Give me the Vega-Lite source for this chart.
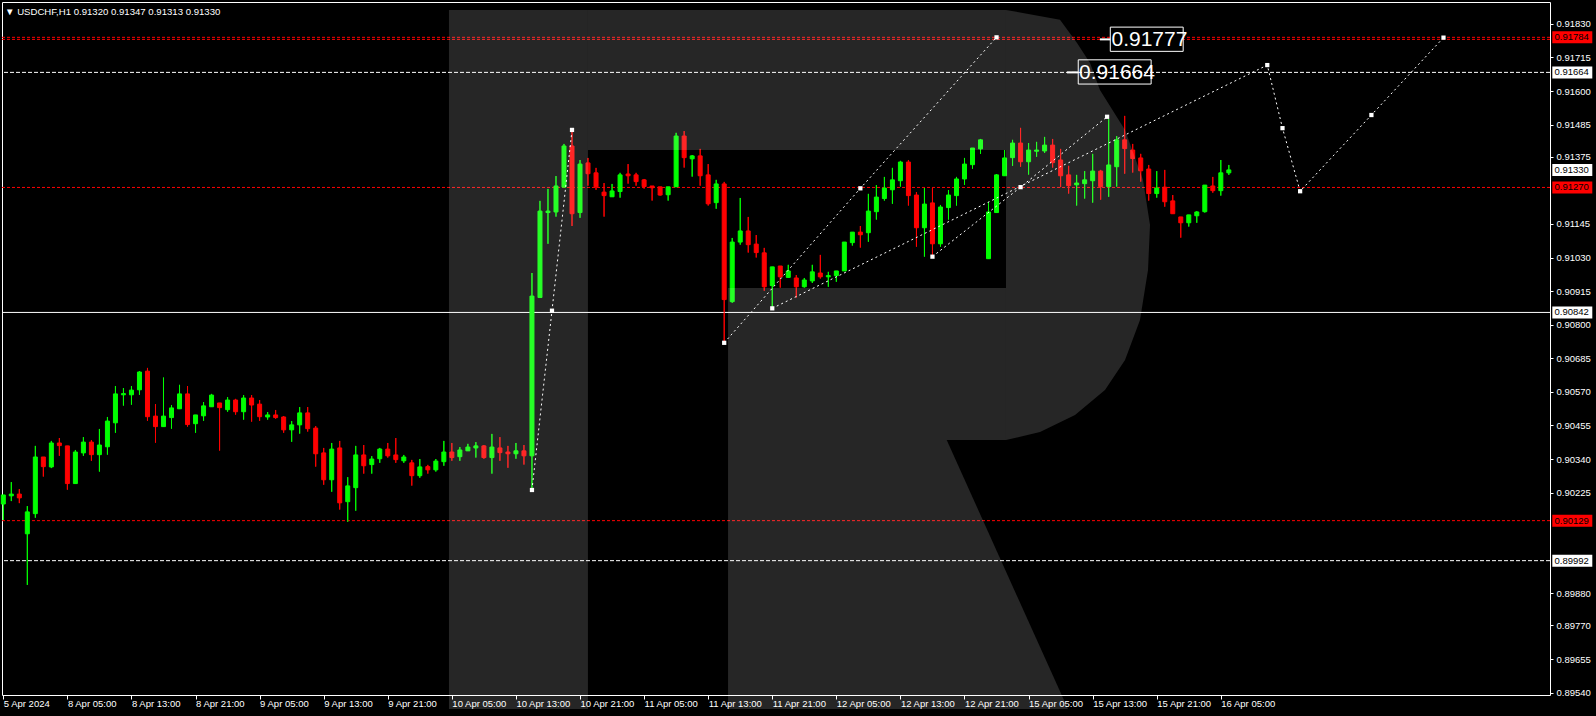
{
"$schema": "https://vega.github.io/schema/vega-lite/v6.json",
"width": 1548, "height": 693,
"autosize": {"type": "none"},
"padding": {"left": 2, "top": 2, "right": 46, "bottom": 21},
"background": "#000000",
"config": {
  "view": {"stroke": "#ffffff", "strokeWidth": 1},
  "font": "Liberation Sans",
  "axis": {"domain": false, "grid": false, "labelColor": "#ffffff", "tickColor": "#ffffff", "labelFont": "Liberation Sans", "labelFontSize": 9.5, "labelOverlap": false, "labelFlush": false, "titleColor": "#000000"},
  "axisY": {"labelOverlap": false},
  "axisRight": {"labelOverlap": false},
  "axisQuantitative": {"labelOverlap": false}
},
"title": {"text": "▼ USDCHF,H1  0.91320 0.91347 0.91313 0.91330", "anchor": "start", "frame": "group", "offset": -15, "dx": 3, "color": "#ffffff", "font": "Liberation Sans", "fontSize": 9.6, "fontWeight": "normal"},
"datasets": {
"candles": [
{"i":0,"o":0.90186,"h":0.90217,"l":0.90131,"c":0.90217},
{"i":1,"o":0.90214,"h":0.90261,"l":0.90196,"c":0.90220},
{"i":2,"o":0.90220,"h":0.90237,"l":0.90189,"c":0.90207},
{"i":3,"o":0.90084,"h":0.90179,"l":0.89909,"c":0.90159},
{"i":4,"o":0.90153,"h":0.90385,"l":0.90139,"c":0.90347},
{"i":5,"o":0.90347,"h":0.90347,"l":0.90280,"c":0.90314},
{"i":6,"o":0.90313,"h":0.90402,"l":0.90309,"c":0.90395},
{"i":7,"o":0.90395,"h":0.90412,"l":0.90351,"c":0.90386},
{"i":8,"o":0.90385,"h":0.90385,"l":0.90235,"c":0.90256},
{"i":9,"o":0.90256,"h":0.90371,"l":0.90256,"c":0.90364},
{"i":10,"o":0.90361,"h":0.90415,"l":0.90351,"c":0.90398},
{"i":11,"o":0.90398,"h":0.90405,"l":0.90334,"c":0.90355},
{"i":12,"o":0.90355,"h":0.90443,"l":0.90297,"c":0.90388},
{"i":13,"o":0.90382,"h":0.90484,"l":0.90355,"c":0.90470},
{"i":14,"o":0.90464,"h":0.90590,"l":0.90430,"c":0.90563},
{"i":15,"o":0.90560,"h":0.90583,"l":0.90523,"c":0.90564},
{"i":16,"o":0.90560,"h":0.90590,"l":0.90526,"c":0.90576},
{"i":17,"o":0.90577,"h":0.90641,"l":0.90560,"c":0.90638},
{"i":18,"o":0.90641,"h":0.90652,"l":0.90471,"c":0.90485},
{"i":19,"o":0.90487,"h":0.90528,"l":0.90396,"c":0.90451},
{"i":20,"o":0.90451,"h":0.90619,"l":0.90451,"c":0.90487},
{"i":21,"o":0.90482,"h":0.90525,"l":0.90444,"c":0.90515},
{"i":22,"o":0.90512,"h":0.90594,"l":0.90512,"c":0.90563},
{"i":23,"o":0.90563,"h":0.90590,"l":0.90451,"c":0.90458},
{"i":24,"o":0.90461,"h":0.90491,"l":0.90430,"c":0.90491},
{"i":25,"o":0.90488,"h":0.90535,"l":0.90471,"c":0.90522},
{"i":26,"o":0.90519,"h":0.90563,"l":0.90519,"c":0.90559},
{"i":27,"o":0.90532,"h":0.90532,"l":0.90369,"c":0.90516},
{"i":28,"o":0.90509,"h":0.90552,"l":0.90502,"c":0.90542},
{"i":29,"o":0.90542,"h":0.90546,"l":0.90492,"c":0.90502},
{"i":30,"o":0.90502,"h":0.90559,"l":0.90475,"c":0.90549},
{"i":31,"o":0.90549,"h":0.90559,"l":0.90468,"c":0.90525},
{"i":32,"o":0.90528,"h":0.90542,"l":0.90471,"c":0.90485},
{"i":33,"o":0.90484,"h":0.90501,"l":0.90475,"c":0.90491},
{"i":34,"o":0.90491,"h":0.90508,"l":0.90478,"c":0.90482},
{"i":35,"o":0.90484,"h":0.90487,"l":0.90430,"c":0.90440},
{"i":36,"o":0.90440,"h":0.90470,"l":0.90399,"c":0.90457},
{"i":37,"o":0.90457,"h":0.90518,"l":0.90427,"c":0.90498},
{"i":38,"o":0.90498,"h":0.90518,"l":0.90434,"c":0.90444},
{"i":39,"o":0.90446,"h":0.90453,"l":0.90314,"c":0.90358},
{"i":40,"o":0.90361,"h":0.90378,"l":0.90252,"c":0.90269},
{"i":41,"o":0.90269,"h":0.90395,"l":0.90228,"c":0.90374},
{"i":42,"o":0.90378,"h":0.90402,"l":0.90167,"c":0.90190},
{"i":43,"o":0.90194,"h":0.90278,"l":0.90125,"c":0.90248},
{"i":44,"o":0.90242,"h":0.90385,"l":0.90163,"c":0.90354},
{"i":45,"o":0.90354,"h":0.90388,"l":0.90290,"c":0.90317},
{"i":46,"o":0.90321,"h":0.90350,"l":0.90290,"c":0.90340},
{"i":47,"o":0.90341,"h":0.90378,"l":0.90327,"c":0.90374},
{"i":48,"o":0.90374,"h":0.90395,"l":0.90345,"c":0.90351},
{"i":49,"o":0.90354,"h":0.90412,"l":0.90327,"c":0.90338},
{"i":50,"o":0.90334,"h":0.90354,"l":0.90327,"c":0.90347},
{"i":51,"o":0.90327,"h":0.90337,"l":0.90249,"c":0.90283},
{"i":52,"o":0.90283,"h":0.90340,"l":0.90276,"c":0.90313},
{"i":53,"o":0.90314,"h":0.90320,"l":0.90290,"c":0.90303},
{"i":54,"o":0.90303,"h":0.90340,"l":0.90297,"c":0.90333},
{"i":55,"o":0.90331,"h":0.90402,"l":0.90317,"c":0.90364},
{"i":56,"o":0.90364,"h":0.90395,"l":0.90334,"c":0.90345},
{"i":57,"o":0.90348,"h":0.90381,"l":0.90334,"c":0.90371},
{"i":58,"o":0.90368,"h":0.90392,"l":0.90368,"c":0.90381},
{"i":59,"o":0.90378,"h":0.90398,"l":0.90345,"c":0.90385},
{"i":60,"o":0.90385,"h":0.90388,"l":0.90341,"c":0.90345},
{"i":61,"o":0.90345,"h":0.90426,"l":0.90290,"c":0.90381},
{"i":62,"o":0.90378,"h":0.90415,"l":0.90334,"c":0.90362},
{"i":63,"o":0.90364,"h":0.90385,"l":0.90310,"c":0.90358},
{"i":64,"o":0.90358,"h":0.90395,"l":0.90341,"c":0.90368},
{"i":65,"o":0.90368,"h":0.90388,"l":0.90321,"c":0.90351},
{"i":66,"o":0.90351,"h":0.90977,"l":0.90241,"c":0.90898},
{"i":67,"o":0.90893,"h":0.91224,"l":0.90893,"c":0.91189},
{"i":68,"o":0.91184,"h":0.91265,"l":0.91077,"c":0.91189},
{"i":69,"o":0.91186,"h":0.91309,"l":0.91170,"c":0.91275},
{"i":70,"o":0.91271,"h":0.91419,"l":0.91271,"c":0.91412},
{"i":71,"o":0.91412,"h":0.91467,"l":0.91138,"c":0.91180},
{"i":72,"o":0.91184,"h":0.91364,"l":0.91166,"c":0.91350},
{"i":73,"o":0.91354,"h":0.91371,"l":0.91276,"c":0.91317},
{"i":74,"o":0.91320,"h":0.91337,"l":0.91262,"c":0.91272},
{"i":75,"o":0.91254,"h":0.91285,"l":0.91170,"c":0.91242},
{"i":76,"o":0.91238,"h":0.91282,"l":0.91238,"c":0.91258},
{"i":77,"o":0.91256,"h":0.91320,"l":0.91235,"c":0.91313},
{"i":78,"o":0.91316,"h":0.91350,"l":0.91283,"c":0.91310},
{"i":79,"o":0.91313,"h":0.91320,"l":0.91276,"c":0.91290},
{"i":80,"o":0.91296,"h":0.91299,"l":0.91266,"c":0.91273},
{"i":81,"o":0.91275,"h":0.91275,"l":0.91225,"c":0.91269},
{"i":82,"o":0.91272,"h":0.91272,"l":0.91242,"c":0.91244},
{"i":83,"o":0.91245,"h":0.91272,"l":0.91225,"c":0.91272},
{"i":84,"o":0.91272,"h":0.91457,"l":0.91272,"c":0.91446},
{"i":85,"o":0.91446,"h":0.91463,"l":0.91338,"c":0.91372},
{"i":86,"o":0.91368,"h":0.91381,"l":0.91307,"c":0.91378},
{"i":87,"o":0.91378,"h":0.91402,"l":0.91276,"c":0.91310},
{"i":88,"o":0.91313,"h":0.91350,"l":0.91208,"c":0.91214},
{"i":89,"o":0.91218,"h":0.91296,"l":0.91197,"c":0.91282},
{"i":90,"o":0.91282,"h":0.91289,"l":0.90736,"c":0.90886},
{"i":91,"o":0.90879,"h":0.91097,"l":0.90875,"c":0.91083},
{"i":92,"o":0.91083,"h":0.91234,"l":0.91074,"c":0.91121},
{"i":93,"o":0.91121,"h":0.91169,"l":0.91047,"c":0.91074},
{"i":94,"o":0.91076,"h":0.91107,"l":0.91030,"c":0.91047},
{"i":95,"o":0.91046,"h":0.91063,"l":0.90916,"c":0.90930},
{"i":96,"o":0.90934,"h":0.90998,"l":0.90855,"c":0.90998},
{"i":97,"o":0.91001,"h":0.91001,"l":0.90927,"c":0.90964},
{"i":98,"o":0.90962,"h":0.91005,"l":0.90962,"c":0.90984},
{"i":99,"o":0.90960,"h":0.90970,"l":0.90893,"c":0.90930},
{"i":100,"o":0.90930,"h":0.90960,"l":0.90927,"c":0.90953},
{"i":101,"o":0.90950,"h":0.91005,"l":0.90943,"c":0.90981},
{"i":102,"o":0.90977,"h":0.91039,"l":0.90958,"c":0.90964},
{"i":103,"o":0.90964,"h":0.90981,"l":0.90930,"c":0.90968},
{"i":104,"o":0.90968,"h":0.90984,"l":0.90947,"c":0.90984},
{"i":105,"o":0.90984,"h":0.91083,"l":0.90984,"c":0.91083},
{"i":106,"o":0.91081,"h":0.91117,"l":0.91071,"c":0.91117},
{"i":107,"o":0.91117,"h":0.91138,"l":0.91064,"c":0.91108},
{"i":108,"o":0.91115,"h":0.91248,"l":0.91084,"c":0.91189},
{"i":109,"o":0.91187,"h":0.91278,"l":0.91160,"c":0.91237},
{"i":110,"o":0.91232,"h":0.91306,"l":0.91225,"c":0.91268},
{"i":111,"o":0.91262,"h":0.91337,"l":0.91214,"c":0.91296},
{"i":112,"o":0.91293,"h":0.91361,"l":0.91273,"c":0.91357},
{"i":113,"o":0.91357,"h":0.91364,"l":0.91208,"c":0.91242},
{"i":114,"o":0.91244,"h":0.91254,"l":0.91067,"c":0.91132},
{"i":115,"o":0.91132,"h":0.91268,"l":0.91033,"c":0.91213},
{"i":116,"o":0.91217,"h":0.91268,"l":0.91036,"c":0.91077},
{"i":117,"o":0.91077,"h":0.91210,"l":0.91067,"c":0.91203},
{"i":118,"o":0.91201,"h":0.91261,"l":0.91160,"c":0.91244},
{"i":119,"o":0.91242,"h":0.91306,"l":0.91208,"c":0.91299},
{"i":120,"o":0.91299,"h":0.91371,"l":0.91279,"c":0.91350},
{"i":121,"o":0.91348,"h":0.91405,"l":0.91334,"c":0.91405},
{"i":122,"o":0.91402,"h":0.91436,"l":0.91385,"c":0.91433},
{"i":123,"o":0.91026,"h":0.91220,"l":0.91026,"c":0.91186},
{"i":124,"o":0.91184,"h":0.91316,"l":0.91184,"c":0.91313},
{"i":125,"o":0.91310,"h":0.91398,"l":0.91310,"c":0.91371},
{"i":126,"o":0.91372,"h":0.91433,"l":0.91344,"c":0.91422},
{"i":127,"o":0.91422,"h":0.91474,"l":0.91341,"c":0.91358},
{"i":128,"o":0.91358,"h":0.91422,"l":0.91314,"c":0.91398},
{"i":129,"o":0.91394,"h":0.91426,"l":0.91375,"c":0.91398},
{"i":130,"o":0.91395,"h":0.91443,"l":0.91388,"c":0.91415},
{"i":131,"o":0.91415,"h":0.91436,"l":0.91338,"c":0.91355},
{"i":132,"o":0.91364,"h":0.91402,"l":0.91271,"c":0.91310},
{"i":133,"o":0.91313,"h":0.91344,"l":0.91249,"c":0.91276},
{"i":134,"o":0.91279,"h":0.91313,"l":0.91208,"c":0.91285},
{"i":135,"o":0.91283,"h":0.91326,"l":0.91232,"c":0.91296},
{"i":136,"o":0.91293,"h":0.91385,"l":0.91218,"c":0.91326},
{"i":137,"o":0.91326,"h":0.91330,"l":0.91228,"c":0.91273},
{"i":138,"o":0.91273,"h":0.91504,"l":0.91238,"c":0.91347},
{"i":139,"o":0.91341,"h":0.91446,"l":0.91273,"c":0.91433},
{"i":140,"o":0.91433,"h":0.91515,"l":0.91317,"c":0.91403},
{"i":141,"o":0.91398,"h":0.91419,"l":0.91321,"c":0.91369},
{"i":142,"o":0.91371,"h":0.91385,"l":0.91290,"c":0.91327},
{"i":143,"o":0.91333,"h":0.91347,"l":0.91225,"c":0.91249},
{"i":144,"o":0.91249,"h":0.91326,"l":0.91235,"c":0.91268},
{"i":145,"o":0.91271,"h":0.91330,"l":0.91204,"c":0.91221},
{"i":146,"o":0.91224,"h":0.91244,"l":0.91180,"c":0.91180},
{"i":147,"o":0.91169,"h":0.91169,"l":0.91098,"c":0.91149},
{"i":148,"o":0.91149,"h":0.91176,"l":0.91136,"c":0.91176},
{"i":149,"o":0.91173,"h":0.91189,"l":0.91149,"c":0.91186},
{"i":150,"o":0.91187,"h":0.91278,"l":0.91184,"c":0.91278},
{"i":151,"o":0.91275,"h":0.91306,"l":0.91252,"c":0.91259},
{"i":152,"o":0.91259,"h":0.91364,"l":0.91242,"c":0.91320},
{"i":153,"o":0.91320,"h":0.91347,"l":0.91313,"c":0.91330}
],
"paths": [
{"p":1,"k":0,"i":66,"v":0.90234},{"p":1,"k":1,"i":68.5,"v":0.90848},{"p":1,"k":2,"i":71,"v":0.91467},
{"p":2,"k":0,"i":90,"v":0.90738},{"p":2,"k":1,"i":107,"v":0.91267},{"p":2,"k":2,"i":124,"v":0.91784},
{"p":3,"k":0,"i":96,"v":0.90856},{"p":3,"k":1,"i":157.8,"v":0.91689},{"p":3,"k":2,"i":159.7,"v":0.91473},{"p":3,"k":3,"i":161.9,"v":0.91257},{"p":3,"k":4,"i":170.8,"v":0.91518},{"p":3,"k":5,"i":179.8,"v":0.91783},
{"p":4,"k":0,"i":116,"v":0.91033},{"p":4,"k":1,"i":127,"v":0.91271},{"p":4,"k":2,"i":137.8,"v":0.91512}
],
"logoRects": [
{"x1":55.64,"x2":72.99,"y1":0.91878,"y2":0.89484},
{"x1":72.99,"x2":125.18,"y1":0.91878,"y2":0.91398},
{"x1":90.48,"x2":125.18,"y1":0.90926,"y2":0.90405}
],
"logoBowl": [
{"y":0.91878,"xa":125.18,"xb":125.18},
{"y":0.91844,"xa":125.18,"xb":131.92},
{"y":0.91765,"xa":125.18,"xb":134.05},
{"y":0.91696,"xa":125.18,"xb":135.67},
{"y":0.91604,"xa":125.18,"xb":136.91},
{"y":0.91467,"xa":125.18,"xb":140.04},
{"y":0.91296,"xa":125.18,"xb":142.28},
{"y":0.91141,"xa":125.18,"xb":143.16},
{"y":0.90987,"xa":125.18,"xb":142.91},
{"y":0.90816,"xa":125.18,"xb":141.91},
{"y":0.90679,"xa":125.18,"xb":140.04},
{"y":0.90576,"xa":125.18,"xb":137.54},
{"y":0.90491,"xa":125.18,"xb":133.80},
{"y":0.90433,"xa":125.18,"xb":129.43},
{"y":0.90405,"xa":125.18,"xb":125.18}
],
"logoLeg": [
{"y":0.90405,"xa":90.48,"xb":117.78},
{"y":0.89484,"xa":90.48,"xb":132.92}
],
"redLines": [{"v":0.91784},{"v":0.91777},{"v":0.91270},{"v":0.90129}],
"whiteDash": [{"v":0.91664},{"v":0.89992}],
"whiteSolid": [{"v":0.90842}]
},
"layer": [
{
  "data": {"name": "candles"},
  "mark": {"type": "rule", "strokeWidth": 1},
  "encoding": {
    "x": {"field": "i", "type": "quantitative", "scale": {"domain": [-0.162, 193.096], "nice": false, "zero": false, "padding": 0},
      "axis": {"orient": "bottom", "title": null, "labelOverlap": false, "values": [0,8,16,24,32,40,48,56,64,72,80,88,96,104,112,120,128,136,144,152], "tickSize": 4, "labelAlign": "left", "labelBaseline": "top", "labelPadding": -1, "labelDx": 1,
        "labelExpr": "['5 Apr 2024','8 Apr 05:00','8 Apr 13:00','8 Apr 21:00','9 Apr 05:00','9 Apr 13:00','9 Apr 21:00','10 Apr 05:00','10 Apr 13:00','10 Apr 21:00','11 Apr 05:00','11 Apr 13:00','11 Apr 21:00','12 Apr 05:00','12 Apr 13:00','12 Apr 21:00','15 Apr 05:00','15 Apr 13:00','15 Apr 21:00','16 Apr 05:00'][round(datum.value/8)]"}},
    "y": {"field": "l", "type": "quantitative", "scale": {"domain": [0.89532, 0.91905], "nice": false, "zero": false, "padding": 0},
      "axis": {"orient": "right", "title": null, "labelOverlap": false, "values": [0.91830,0.91715,0.91600,0.91485,0.91375,0.91145,0.91030,0.90915,0.90800,0.90685,0.90570,0.90455,0.90340,0.90225,0.89880,0.89770,0.89655,0.89540], "format": ".5f", "tickSize": 3, "labelPadding": 3, "labelAlign": "left", "labelBaseline": "middle"}},
    "y2": {"field": "h"},
    "color": {"condition": {"test": "datum.c >= datum.o", "value": "#00ff00"}, "value": "#ff0000"}
  }
},
{
  "data": {"name": "redLines"},
  "mark": {"type": "rule", "color": "#ff0000", "strokeWidth": 1, "strokeDash": [3,2]},
  "encoding": {"y": {"field": "v", "type": "quantitative"}}
},
{
  "data": {"name": "whiteDash"},
  "mark": {"type": "rule", "color": "#ffffff", "strokeWidth": 1, "strokeDash": [4,2]},
  "encoding": {"y": {"field": "v", "type": "quantitative"}}
},
{
  "data": {"name": "whiteSolid"},
  "mark": {"type": "rule", "color": "#ffffff", "strokeWidth": 1},
  "encoding": {"y": {"field": "v", "type": "quantitative"}}
},
{
  "data": {"name": "candles"},
  "mark": {"type": "rule", "strokeWidth": 1},
  "encoding": {
    "x": {"field": "i", "type": "quantitative"},
    "y": {"field": "l", "type": "quantitative"},
    "y2": {"field": "h"},
    "color": {"condition": {"test": "datum.c >= datum.o", "value": "#00ff00"}, "value": "#ff0000"}
  }
},
{
  "data": {"name": "candles"},
  "mark": {"type": "bar", "width": 4, "strokeWidth": 1},
  "encoding": {
    "x": {"field": "i", "type": "quantitative"},
    "y": {"field": "o", "type": "quantitative"},
    "y2": {"field": "c"},
    "color": {"condition": {"test": "datum.c >= datum.o", "value": "#00ff00"}, "value": "#ff0000"},
    "stroke": {"condition": {"test": "datum.c >= datum.o", "value": "#00ff00"}, "value": "#ff0000"}
  }
},
{
  "data": {"name": "paths"},
  "mark": {"type": "line", "color": "#ffffff", "strokeWidth": 1, "strokeDash": [2,3]},
  "encoding": {
    "x": {"field": "i", "type": "quantitative"},
    "y": {"field": "v", "type": "quantitative"},
    "detail": {"field": "p"},
    "order": {"field": "k"}
  }
},
{
  "data": {"name": "paths"},
  "mark": {"type": "point", "shape": "square", "filled": true, "color": "#ffffff", "size": 18, "opacity": 1},
  "encoding": {
    "x": {"field": "i", "type": "quantitative"},
    "y": {"field": "v", "type": "quantitative"}
  }
},
{
  "data": {"name": "logoRects"},
  "mark": {"type": "rect", "fill": "#ffffff", "fillOpacity": 0.15, "strokeWidth": 0, "clip": false},
  "encoding": {
    "x": {"field": "x1", "type": "quantitative"},
    "x2": {"field": "x2"},
    "y": {"field": "y1", "type": "quantitative"},
    "y2": {"field": "y2"}
  }
},
{
  "data": {"name": "logoBowl"},
  "mark": {"type": "area", "orient": "horizontal", "fill": "#ffffff", "fillOpacity": 0.15, "clip": false},
  "encoding": {
    "y": {"field": "y", "type": "quantitative"},
    "x": {"field": "xa", "type": "quantitative"},
    "x2": {"field": "xb"}
  }
},
{
  "data": {"name": "logoLeg"},
  "mark": {"type": "area", "orient": "horizontal", "fill": "#ffffff", "fillOpacity": 0.15, "clip": false},
  "encoding": {
    "y": {"field": "y", "type": "quantitative"},
    "x": {"field": "xa", "type": "quantitative"},
    "x2": {"field": "xb"}
  }
},
{
  "data": {"values": [{}]},
  "mark": {"type": "rect", "fill": "#000000", "stroke": "#ffffff", "strokeWidth": 1},
  "encoding": {
    "x": {"datum": 138.2, "type": "quantitative"},
    "x2": {"datum": 147.3},
    "y": {"datum": 0.91819, "type": "quantitative"},
    "y2": {"datum": 0.91736}
  }
},
{
  "data": {"values": [{}]},
  "mark": {"type": "rect", "fillOpacity": 0, "stroke": "#ffffff", "strokeWidth": 1},
  "encoding": {
    "x": {"datum": 134.2, "type": "quantitative"},
    "x2": {"datum": 143.3},
    "y": {"datum": 0.91707, "type": "quantitative"},
    "y2": {"datum": 0.91624}
  }
},
{
  "data": {"values": [{"a": 136.9, "b": 138.2, "v": 0.91777}, {"a": 132.8, "b": 134.2, "v": 0.91664}]},
  "mark": {"type": "rule", "color": "#ffffff", "strokeWidth": 2},
  "encoding": {
    "x": {"field": "a", "type": "quantitative"},
    "x2": {"field": "b"},
    "y": {"field": "v", "type": "quantitative"}
  }
},
{
  "data": {"values": [{"x": 138.35, "v": 0.91777, "t": "0.91777"}, {"x": 134.3, "v": 0.91664, "t": "0.91664"}]},
  "mark": {"type": "text", "color": "#ffffff", "font": "Liberation Sans", "fontSize": 21, "align": "left", "baseline": "middle", "dy": 1},
  "encoding": {
    "x": {"field": "x", "type": "quantitative"},
    "y": {"field": "v", "type": "quantitative"},
    "text": {"field": "t"}
  }
},
{
  "data": {"values": [{"v": 0.91784}, {"v": 0.91270}, {"v": 0.90129}]},
  "mark": {"type": "tick", "orient": "horizontal", "color": "#ff0000", "thickness": 12, "clip": false, "opacity": 1},
  "encoding": {
    "x": {"datum": 195.88, "type": "quantitative"},
    "y": {"field": "v", "type": "quantitative"},
    "size": {"value": 40}
  }
},
{
  "data": {"values": [{"v": 0.91664}, {"v": 0.91330}, {"v": 0.90842}, {"v": 0.89992}]},
  "mark": {"type": "tick", "orient": "horizontal", "color": "#ffffff", "thickness": 12, "clip": false, "opacity": 1},
  "encoding": {
    "x": {"datum": 195.88, "type": "quantitative"},
    "y": {"field": "v", "type": "quantitative"},
    "size": {"value": 40}
  }
},
{
  "data": {"values": [{"v": 0.91784}, {"v": 0.91664}, {"v": 0.91330}, {"v": 0.91270}, {"v": 0.90842}, {"v": 0.90129}, {"v": 0.89992}]},
  "mark": {"type": "text", "color": "#000000", "font": "Liberation Sans", "fontSize": 9.5, "align": "left", "baseline": "middle", "clip": false},
  "encoding": {
    "x": {"datum": 193.66, "type": "quantitative"},
    "y": {"field": "v", "type": "quantitative"},
    "text": {"field": "v", "format": ".5f"}
  }
}
]
}
